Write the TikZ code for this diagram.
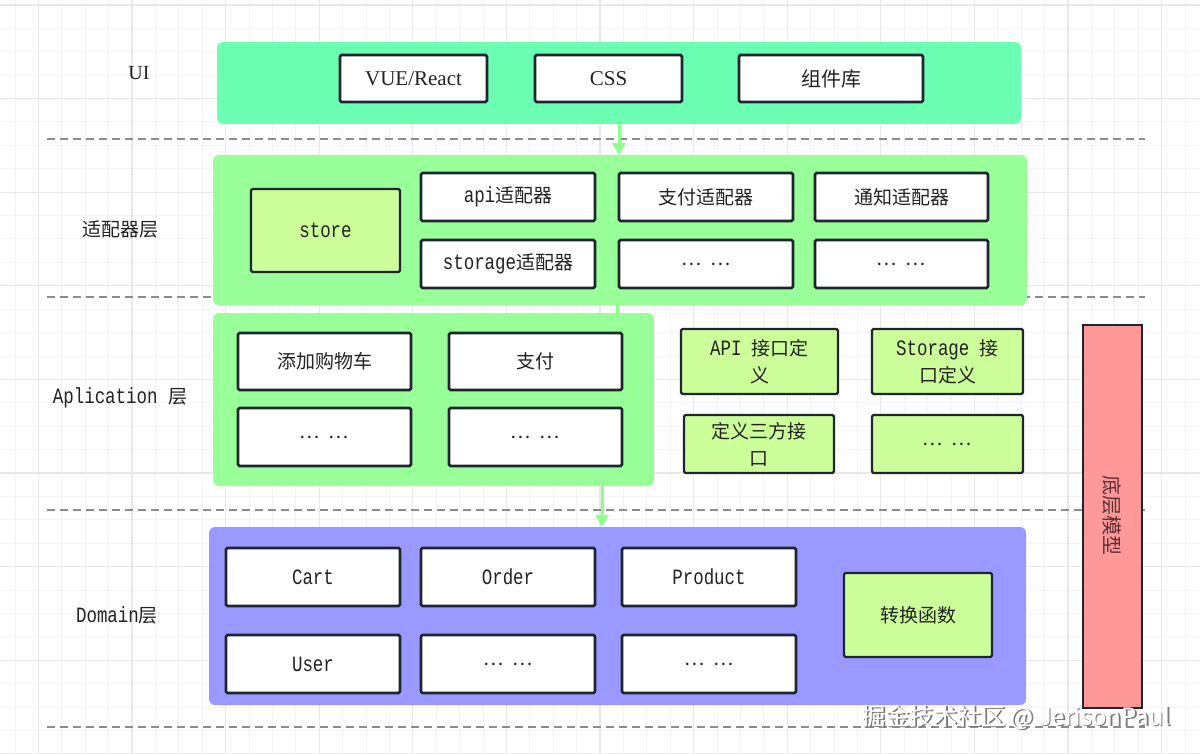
\documentclass[tikz,border=0pt]{standalone}
\usepackage{fontspec}
\setmainfont{Noto Sans CJK SC}
\newfontfamily\monofnt[FakeStretch=0.8, Scale=1.15]{Liberation Mono}
\newfontfamily\seriffnt{Liberation Serif}
\usetikzlibrary{arrows.meta}
\definecolor{gridminor}{HTML}{F3F3F3}
\definecolor{gridmajor}{HTML}{E8E8E8}
\definecolor{sepline}{HTML}{8C8C8C}
\definecolor{uigreen}{HTML}{6CFFB4}
\definecolor{lgreen}{HTML}{99FF99}
\definecolor{lime}{HTML}{CCFF99}
\definecolor{lblue}{HTML}{9999FF}
\definecolor{lred}{HTML}{FF9999}
\definecolor{boxline}{HTML}{1E2530}
\definecolor{txt}{HTML}{222222}
\definecolor{redtxt}{HTML}{5A3035}
\definecolor{arrowgreen}{HTML}{8CFF8C}
\definecolor{wmshadow}{HTML}{7A7A7A}
\newcommand{\dotsdots}{…\hspace{9pt}…}
\tikzset{
  container/.style={draw=none, rounded corners=6pt, inner sep=0pt},
  wbox/.style={draw=boxline, line width=2.6pt, fill=white, rounded corners=1.5pt, inner sep=0pt, text=txt, align=center, font=\fontsize{19}{27}\selectfont},
  gbox/.style={wbox, fill=lime, line width=2.2pt},
  lbl/.style={text=txt, font=\fontsize{19}{24}\selectfont, inner sep=0pt},
  sep/.style={draw=sepline, line width=1.5pt, dash pattern=on 8pt off 5pt},
  conn/.style={draw=arrowgreen, line width=3pt, -{Triangle[width=13pt,length=12pt]}},
  connplain/.style={draw=arrowgreen, line width=3pt},
}
\begin{document}
\begin{tikzpicture}[x=1pt,y=-1pt]
\useasboundingbox (0,0) rectangle (1200,754);
\fill[white] (0,0) rectangle (1200,754);
% grid
\foreach \i in {0,...,51} {\draw[gridminor, line width=1pt] ({15+23.4*\i},0) -- ++(0,754);}
\foreach \i in {0,...,32} {\draw[gridminor, line width=1pt] (0,{5+23.4*\i}) -- ++(1200,0);}
\foreach \i in {0,...,12} {\draw[gridmajor, line width=1.2pt] ({38.4+93.6*\i},0) -- ++(0,754);}
\foreach \i in {0,...,8} {\draw[gridmajor, line width=1.2pt] (0,{5+93.6*\i}) -- ++(1200,0);}
% separators
\coordinate (s1a) at (47,139); \coordinate (s1b) at (1145,139);
\coordinate (s2a) at (47,297); \coordinate (s2b) at (1145,297);
\coordinate (s3a) at (47,510); \coordinate (s3b) at (1145,510);
\coordinate (s4a) at (47,727); \coordinate (s4b) at (1145,727);
\draw[sep] (s1a) -- (s1b);
\draw[sep] (s2a) -- (s2b);
\draw[sep] (s3a) -- (s3b);
\draw[sep] (s4a) -- (s4b);
% layer labels
\node[lbl, font=\seriffnt\fontsize{20}{24}\selectfont] (lui) at (139,73) {UI};
\node[lbl] (ladp) at (120,229) {适配器层};
\node[lbl] (lapp) at (120,398) {{\monofnt Aplication }层};
\node[lbl] (ldom) at (117,615) {{\monofnt Domain}层};
% containers
\node[container, fill=uigreen, minimum width=804pt, minimum height=82pt] (uic) at (619,83) {};
\node[container, fill=lgreen, minimum width=814pt, minimum height=150pt] (adp) at (620,230) {};
\node[container, fill=lgreen, minimum width=441pt, minimum height=173pt] (app) at (433.5,399.5) {};
\node[container, fill=lblue, minimum width=817pt, minimum height=178pt] (dom) at (617.5,616) {};
% connectors
\coordinate (ax1) at (619,0);
\coordinate (ax2) at (617,0);
\coordinate (ax3) at (602,0);
\draw[conn] (ax1 |- uic.south) -- (ax1 |- adp.north);
\draw[connplain] (ax2 |- adp.south) -- (ax2 |- app.north);
\draw[conn] (ax3 |- app.south) -- (ax3 |- dom.north);
% UI boxes
\node[wbox, minimum width=147pt, minimum height=47pt, font=\seriffnt\fontsize{21}{24}\selectfont] (vue) at (413.5,78.5) {VUE/React};
\node[wbox, minimum width=147pt, minimum height=47pt, font=\seriffnt\fontsize{21}{24}\selectfont] (css) at (608.5,78.5) {CSS};
\node[wbox, minimum width=184pt, minimum height=47pt, font=\fontsize{20}{24}\selectfont] (lib) at (831,78.5) {组件库};
% adapter boxes
\node[gbox, minimum width=149pt, minimum height=83pt] (store) at (325.5,230.5) {\monofnt store};
\node[wbox, minimum width=174pt, minimum height=48pt] (apiad) at (508,197) {{\monofnt api}适配器};
\node[wbox, minimum width=174pt, minimum height=48pt] (payad) at (706,197) {支付适配器};
\node[wbox, minimum width=173pt, minimum height=48pt] (notad) at (901.5,197) {通知适配器};
\node[wbox, minimum width=174pt, minimum height=48pt] (stoad) at (508,264) {{\monofnt storage}适配器};
\node[wbox, minimum width=174pt, minimum height=48pt] (adx1) at (706,264) {\dotsdots};
\node[wbox, minimum width=173pt, minimum height=48pt] (adx2) at (901.5,264) {\dotsdots};
% application boxes
\node[wbox, minimum width=173pt, minimum height=57pt] (cart) at (324.5,361.5) {添加购物车};
\node[wbox, minimum width=173pt, minimum height=57pt] (pay) at (535.5,361.5) {支付};
\node[wbox, minimum width=173pt, minimum height=58pt] (apx1) at (324.5,437) {\dotsdots};
\node[wbox, minimum width=173pt, minimum height=58pt] (apx2) at (535.5,437) {\dotsdots};
% interface definitions
\node[gbox, minimum width=157pt, minimum height=65pt] (apidef) at (759.5,361.5) {{\monofnt API }接口定\\义};
\node[gbox, minimum width=151pt, minimum height=65pt] (stodef) at (947.5,361.5) {{\monofnt Storage }接\\口定义};
\node[gbox, minimum width=150pt, minimum height=58pt] (thirddef) at (759,444) {定义三方接\\口};
\node[gbox, minimum width=151pt, minimum height=58pt] (defx) at (947.5,444) {\dotsdots};
% domain boxes
\node[wbox, minimum width=174pt, minimum height=58pt] (dcart) at (313,577) {\monofnt Cart};
\node[wbox, minimum width=174pt, minimum height=58pt] (dorder) at (508,577) {\monofnt Order};
\node[wbox, minimum width=174pt, minimum height=58pt] (dprod) at (709,577) {\monofnt Product};
\node[wbox, minimum width=174pt, minimum height=58pt] (duser) at (313,664) {\monofnt User};
\node[wbox, minimum width=174pt, minimum height=58pt] (dx1) at (508,664) {\dotsdots};
\node[wbox, minimum width=174pt, minimum height=58pt] (dx2) at (709,664) {\dotsdots};
\node[gbox, minimum width=148pt, minimum height=84pt] (conv) at (918,615) {转换函数};
% base model bar
\node[draw=boxline, line width=1.6pt, fill=lred, minimum width=59pt, minimum height=383pt, inner sep=0pt] (base) at (1112.5,516.5) {};
\node[text=redtxt, rotate=-90, inner sep=0pt, font=\fontsize{20}{24}\selectfont] (basetxt) at (1112.5,515) {底层模型};
% watermark
\node[text=wmshadow, inner sep=0pt, font=\fontsize{24}{28}\selectfont] (wmshadow) at (1017.5,718.5) {掘金技术社区 @ JerisonPaul};
\node[text=white, inner sep=0pt, font=\fontsize{24}{28}\selectfont] (wm) at (1016,717) {掘金技术社区 @ JerisonPaul};
\end{tikzpicture}
\end{document}
